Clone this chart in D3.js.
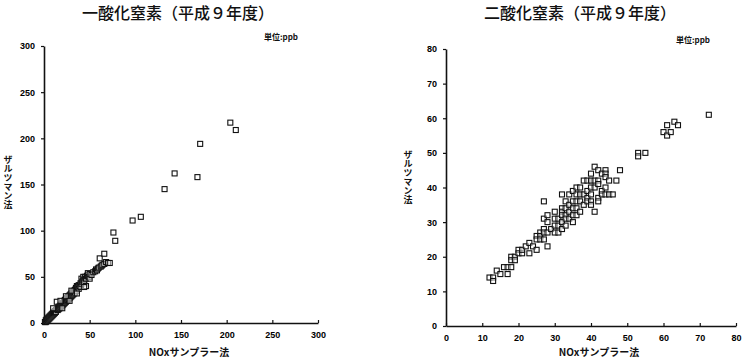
<html>
<head>
<meta charset="utf-8">
<script src="https://d3js.org/d3.v7.min.js"></script>
<style>
  body { margin: 0; background: #fff; }
  .tick text { font-family: "Liberation Sans", Arial, sans-serif; font-weight: bold; font-size: 9px; fill: #000; }
  .jp { font-family: "Noto Sans CJK JP", sans-serif; fill: #111; }
</style>
</head>
<body>
<script>

// 一酸化窒素 : [NOxサンプラー法, ザルツマン法]
noData = [[1,1],[2,3],[2,1],[3,2],[3,4],[4,3],[4,5],[5,4],[5,6],[6,5],[6,7],[7,6],[7,8],[8,7],[8,9],
  [9,10],[9,8],[10,9],[10,11],[11,12],[11,10],[12,13],[12,11],[13,14],[13,12],[14,15],[14,23],[15,14],
  [15,16],[16,17],[16,15],[17,18],[17,16],[18,19],[18,17],[19,20],[19,18],[20,21],[20,19],[21,22],
  [21,20],[22,24],[22,21],[23,25],[23,22],[24,26],[24,23],[25,27],[25,24],[26,28],[26,25],[27,29],
  [27,26],[28,30],[28,27],[29,31],[29,28],[30,32],[30,29],[31,33],[31,30],[32,34],[32,31],[33,35],
  [33,32],[34,36],[34,33],[35,37],[35,38],[36,40],[36,35],[37,39],[38,41],[38,37],[39,40],[40,43],
  [40,39],[41,48],[41,42],[42,45],[42,44],[43,50],[43,46],[44,47],[44,43],[45,50],[46,48],[46,40],
  [47,51],[48,52],[48,54],[49,50],[50,53],[50,48],[52,52],[54,55],[56,56],[57,58],[58,57],[59,59],
  [60,60],[61,70],[62,61],[63,62],[64,63],[66,75],[66,64],[68,66],[70,65],[72,65],
  [10,16],[18,24],[24,29],[30,35],[20,16],[28,24],[36,32],[44,39],
  [76,98],[78,89],[97,111],[106,115],[132,145],[143,162],[168,158],[171,194],[204,217],[210,209]];

// 二酸化窒素
no2Data = [[12,14],[13,14],[13,13],[14,16],[15,15],[16,17],[17,15],[17,17],[18,17],[18,20],[18,19],
  [19,20],[19,19],[20,22],[20,21],[21,21],[21,22],[22,23],[23,21],[23,24],[24,23],[25,26],[25,25],
  [25,22],[26,27],[26,26],[26,25],[27,28],[27,27],[27,25],[27,36],[27,31],[28,32],[28,30],[28,27],
  [28,23],[29,28],[30,33],[30,31],[30,29],[30,27],[31,31],[31,29],[31,27],[32,38],[32,34],[32,33],
  [32,32],[32,30],[32,28],[33,36],[33,34],[33,32],[33,31],[33,29],[34,38],[34,35],[34,33],[34,31],
  [35,39],[35,36],[35,34],[35,32],[35,30],[36,40],[36,38],[36,36],[36,34],[36,32],[37,40],[37,38],
  [37,36],[37,33],[38,42],[38,38],[38,35],[39,42],[39,39],[39,37],[39,36],[40,44],[40,42],[40,40],
  [40,38],[40,36],[40,35],[41,46],[41,42],[41,40],[41,33],[42,45],[42,42],[42,41],[42,37],[42,36],
  [43,44],[43,39],[43,38],[44,45],[44,44],[44,43],[44,40],[44,38],[45,42],[45,38],[46,38],[47,42],
  [48,45],[53,50],[53,49],[55,50],[60,56],[61,58],[61,55],[62,56],[63,59],[64,58],[72.5,61]];

noTicks = [0, 50, 100, 150, 200, 250, 300];
no2Ticks = [0, 10, 20, 30, 40, 50, 60, 70, 80];

xTitle = "NOxサンプラー法";
yTitle = "ザルツマン法";
unitLabel = "単位:ppb";

svg = d3.select("body").append("svg").attr("width", 744).attr("height", 361);

function drawChart(opt) {
  x = d3.scaleLinear().domain([0, opt.max]).range([opt.x0, opt.x1]);
  y = d3.scaleLinear().domain([0, opt.max]).range([opt.y0, opt.y1]);
  g = svg.append("g");

  g.append("text").attr("class", "jp")
    .attr("x", opt.titleX).attr("y", 19)
    .attr("text-anchor", "middle")
    .style("font-size", "16px").style("font-weight", "500")
    .text(opt.title);

  g.append("text").attr("class", "jp")
    .attr("x", opt.unitX).attr("y", opt.y1 - 6)
    .attr("text-anchor", "end")
    .style("font-size", "8px").style("font-weight", "bold")
    .text(unitLabel);

  xAxis = g.append("g").attr("transform", "translate(0," + opt.y0 + ")")
    .call(d3.axisBottom(x).tickValues(opt.ticks).tickSizeInner(-3).tickSizeOuter(0).tickPadding(9));
  yAxis = g.append("g").attr("transform", "translate(" + opt.x0 + ",0)")
    .call(d3.axisLeft(y).tickValues(opt.ticks).tickSizeInner(3).tickSizeOuter(0).tickPadding(6));
  g.selectAll(".domain").attr("stroke", "#111").attr("stroke-width", 1.6);
  g.selectAll(".tick line").attr("stroke", "#111").attr("stroke-width", 1.2);

  g.append("text").attr("class", "jp")
    .attr("x", (opt.x0 + opt.x1) / 2 + 8).attr("y", 356)
    .attr("text-anchor", "middle")
    .style("font-size", "10px").style("font-weight", "bold")
    .text(xTitle);

  // vertical y title, one text element
  g.append("text").attr("class", "jp")
    .attr("x", opt.yTitleX).attr("y", opt.yTitleY)
    .style("writing-mode", "vertical-rl")
    .style("text-orientation", "upright")
    .style("font-size", "9px").style("font-weight", "bold")
    .text(yTitle);

  g.selectAll("rect.pt")
    .data(opt.data)
    .enter()
    .append("rect")
    .attr("class", "pt")
    .attr("x", d => x(d[0]) - 2.5)
    .attr("y", d => y(d[1]) - 2.5)
    .attr("width", 5)
    .attr("height", 5)
    .attr("fill", "white")
    .attr("fill-opacity", 0.5)
    .attr("stroke", "#111")
    .attr("stroke-width", 1.1);
}

drawChart({data: noData, max: 300, ticks: noTicks, x0: 44, x1: 318, y0: 323, y1: 46,
  title: "一酸化窒素（平成９年度）", titleX: 178, unitX: 298, yTitleX: 8, yTitleY: 155});
drawChart({data: no2Data, max: 80, ticks: no2Ticks, x0: 446, x1: 736, y0: 326, y1: 49,
  title: "二酸化窒素（平成９年度）", titleX: 580, unitX: 710, yTitleX: 408, yTitleY: 150});

</script>
</body>
</html>
